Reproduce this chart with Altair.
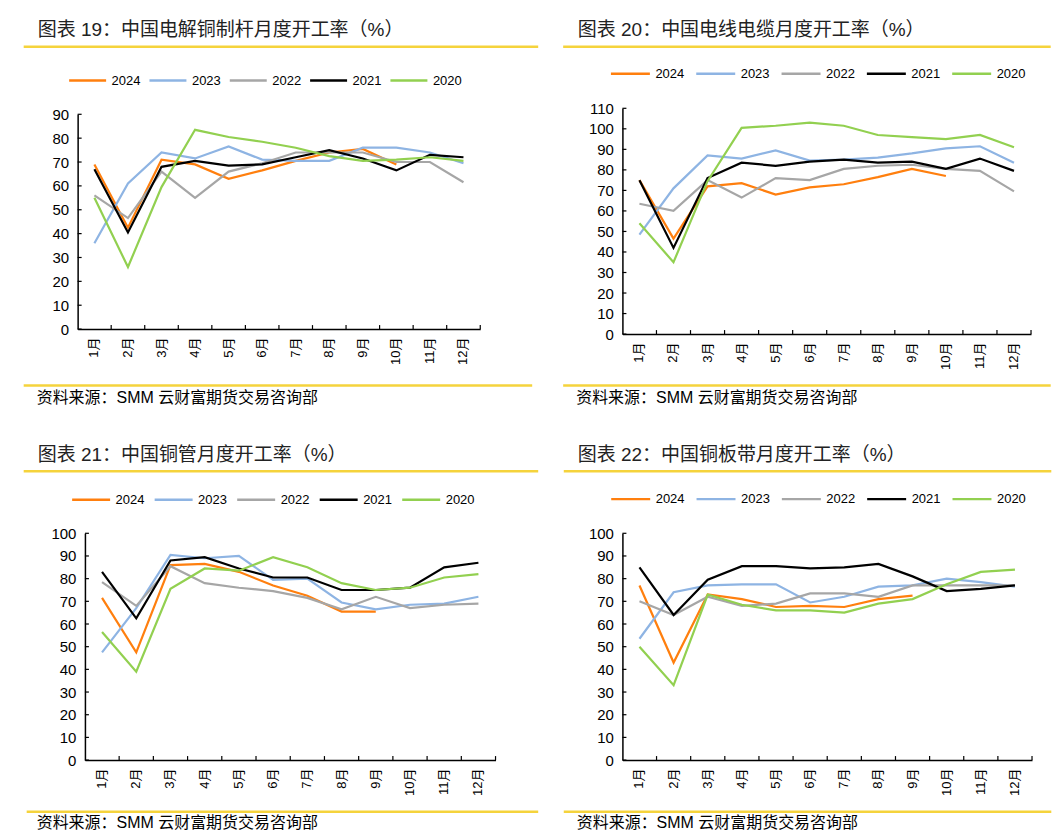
import altair as alt
import pandas as pd

FONT = "Liberation Sans, Noto Sans CJK SC, sans-serif"
YELLOW = "#F5D33C"

months = ["1月", "2月", "3月", "4月", "5月", "6月", "7月", "8月", "9月", "10月", "11月", "12月"]
years = ["2024", "2023", "2022", "2021", "2020"]
colors = ["#FF7F0E", "#8EB4E3", "#A6A6A6", "#000000", "#92D050"]

# 图表19 电解铜制杆
rod_2024 = [69, 42.5, 71, 69, 63, 66.5, 70.5, 74, 75.5, 69]
rod_2023 = [36, 61, 74, 71.5, 76.5, 71, 70.5, 70.5, 76, 76, 74, 69.5]
rod_2022 = [56, 46.5, 66, 55, 66, 69.5, 74, 74, 74, 70, 70, 61.5]
rod_2021 = [67, 40.5, 68, 70.5, 68.5, 69, 72, 75, 71.5, 66.5, 73, 72]
rod_2020 = [55, 26, 59.5, 83.5, 80.5, 78.5, 76, 72.5, 70.5, 71, 72, 70.5]

# 图表20 电线电缆
cable_2024 = [75, 46.5, 72, 73.5, 68, 71.5, 73, 76.5, 80.5, 77]
cable_2023 = [48.5, 71, 87, 85.5, 89.5, 84.5, 85, 86, 88, 90.5, 91.5, 83.5]
cable_2022 = [63.5, 60, 75, 66.5, 76, 75, 80.5, 82, 82.5, 80.5, 79.5, 69.5]
cable_2021 = [75, 42, 76, 83.5, 82, 84, 85, 83.5, 84, 80.5, 85.5, 79.5]
cable_2020 = [54, 35, 74.5, 100.5, 101.5, 103, 101.5, 97, 96, 95, 97, 91]

# 图表21 铜管
tube_2024 = [71.5, 47.5, 86, 86.5, 83, 77, 72.5, 65.5, 65.5]
tube_2023 = [47.5, 67, 90.5, 89, 90, 79.5, 80, 69.5, 66.5, 68.5, 69, 72]
tube_2022 = [78.5, 68, 85.5, 78, 76, 74.5, 71.5, 66.5, 72, 67, 68.5, 69]
tube_2021 = [83, 62.5, 88, 89.5, 84.5, 80.5, 80.5, 75, 75, 76, 85, 87]
tube_2020 = [56.5, 39, 75.5, 84.5, 83.5, 89.5, 85, 78, 75, 76, 80.5, 82]

# 图表22 铜板带
strip_2024 = [77, 43, 73, 71, 67.5, 68, 67.5, 71, 72.5]
strip_2023 = [53.5, 74, 77, 77.5, 77.5, 69.5, 72, 76.5, 77, 80, 78.5, 76.5]
strip_2022 = [70, 64, 72, 68, 69, 73.5, 73.5, 72, 77, 77, 77, 77]
strip_2021 = [85, 64, 79.5, 85.5, 85.5, 84.5, 85, 86.5, 81, 74.5, 75.5, 77]
strip_2020 = [50, 33, 73, 68.5, 66, 66, 65, 69, 71, 77.5, 83, 84]

titles = [
    "图表 19：中国电解铜制杆月度开工率（%）",
    "图表 20：中国电线电缆月度开工率（%）",
    "图表 21：中国铜管月度开工率（%）",
    "图表 22：中国铜板带月度开工率（%）",
]
source = "资料来源：SMM 云财富期货交易咨询部"

ticks_90 = [0, 10, 20, 30, 40, 50, 60, 70, 80, 90]
ticks_110 = [0, 10, 20, 30, 40, 50, 60, 70, 80, 90, 100, 110]
ticks_100 = [0, 10, 20, 30, 40, 50, 60, 70, 80, 90, 100]


def make_df(series):
    rows = []
    for yr, vals in zip(years, series):
        for m, v in zip(months, vals):
            rows.append({"month": m, "year": yr, "value": v})
    return pd.DataFrame(rows)


def panel(title, series, ticks, g):
    w, h = g["w"], g["h"]
    x0, x1 = g["xr"]
    ytop = g["ytop"]
    df = make_df(series)
    xscale = alt.Scale(type="band", domain=months, paddingInner=0, paddingOuter=0,
                       range=[x0, x1])
    yscale = alt.Scale(domain=[0, ticks[-1]], nice=False, range=[h, ytop])
    xaxis = alt.Axis(title=None, labelAngle=-90, ticks=False, grid=False,
                     domainColor="black", domainWidth=1.5, labelPadding=8,
                     labelFontSize=13, labelColor="black", labelFont=FONT)
    yaxis = alt.Axis(title=None, values=ticks, ticks=False, grid=False,
                     domainColor="black", domainWidth=1.5, labelPadding=9,
                     labelFontSize=15, labelColor="black", labelFont=FONT,
                     offset=-x0)

    lines = alt.Chart(df).mark_line(strokeWidth=2.2).encode(
        x=alt.X("month:N", scale=xscale, axis=xaxis, sort=months),
        y=alt.Y("value:Q", scale=yscale, axis=yaxis),
        color=alt.Color("year:N", scale=alt.Scale(domain=years, range=colors),
                        sort=years,
                        legend=alt.Legend(orient="none", legendX=g["lx"], legendY=g["ly"],
                                          direction="horizontal", title=None,
                                          symbolType="stroke", symbolSize=g["ss"],
                                          symbolStrokeWidth=2.5, labelFontSize=13,
                                          labelFont=FONT, labelColor="black",
                                          labelOffset=4, columnPadding=g["cp"])),
    )

    xt = alt.Chart(pd.DataFrame({"month": months})).mark_rule(
        color="black", strokeWidth=1.2).encode(
        x=alt.X("month:N", scale=xscale, axis=xaxis, sort=months, bandPosition=1),
        y=alt.value(h), y2=alt.value(h - 4))

    yt = alt.Chart(pd.DataFrame({"value": ticks})).mark_rule(
        color="black", strokeWidth=1.2).encode(
        y=alt.Y("value:Q", scale=yscale, axis=yaxis),
        x=alt.value(x0), x2=alt.value(x0 + 4))

    one = pd.DataFrame({"t": [title], "s": [source]})
    frame = alt.Chart(one).mark_rect(opacity=0).encode(
        x=alt.value(g["fl"]), x2=alt.value(g["fr"]),
        y=alt.value(-100), y2=alt.value(300))
    ttl = alt.Chart(one).mark_text(align="left", baseline="middle", fontSize=19,
                                   font=FONT, color="#222222").encode(
        x=alt.value(g["tx"]), y=alt.value(g["ty"]), text="t:N")
    tline = alt.Chart(one).mark_rule(color=YELLOW, strokeWidth=2.5).encode(
        x=alt.value(g["tl1"]), x2=alt.value(g["tl2"]), y=alt.value(g["tly"]))
    sline = alt.Chart(one).mark_rule(color=YELLOW, strokeWidth=2.5).encode(
        x=alt.value(g["sl1"]), x2=alt.value(g["sl2"]), y=alt.value(g["sly"]))
    src = alt.Chart(one).mark_text(align="left", baseline="middle", fontSize=16,
                                   font=FONT, color="black").encode(
        x=alt.value(g["sx"]), y=alt.value(g["sy"]), text="s:N")

    return alt.layer(frame, tline, sline, ttl, src, yt, xt, lines).properties(width=w, height=h)


# geometry relative to each panel's origin
g1 = dict(w=396, h=221, xr=[-7.3, 395.7], ytop=6, fl=-76.3, fr=456,
          tx=-47.3, ty=-78.3, tl1=-61.3, tl2=453.7, tly=-61.6,
          lx=-17.3, ly=-47.8, ss=1369, cp=3.4,
          sl1=-61.3, sl2=447.7, sly=277.4, sx=-48.3, sy=289.7)
g2 = dict(w=409, h=226, xr=[0, 409], ytop=0, fl=-72, fr=430,
          tx=-44.6, ty=-78.3, tl1=-59.3, tl2=428.7, tly=-61.6,
          lx=-13, ly=-55.5, ss=1521, cp=6.4,
          sl1=-59.3, sl2=428.7, sly=277.4, sx=-46.3, sy=289.7)
g3 = dict(w=411, h=227, xr=[0, 411], ytop=0, fl=-76.3, fr=456,
          tx=-47.3, ty=-78, tl1=-61.3, tl2=453.7, tly=-62,
          lx=-14.3, ly=-54.4, ss=1444, cp=4.6,
          sl1=-58.3, sl2=453.7, sly=278.6, sx=-48.3, sy=290.3)
g4 = dict(w=410, h=227, xr=[0, 410], ytop=0, fl=-71.4, fr=430,
          tx=-44.7, ty=-78, tl1=-58.7, tl2=429.3, tly=-62,
          lx=-12.7, ly=-55.2, ss=1521, cp=6.4,
          sl1=-58.7, sl2=429.3, sly=278.6, sx=-45.7, sy=290.3)

p1 = panel(titles[0], [rod_2024, rod_2023, rod_2022, rod_2021, rod_2020], ticks_90, g1)
p2 = panel(titles[1], [cable_2024, cable_2023, cable_2022, cable_2021, cable_2020], ticks_110, g2)
p3 = panel(titles[2], [tube_2024, tube_2023, tube_2022, tube_2021, tube_2020], ticks_100, g3)
p4 = panel(titles[3], [strip_2024, strip_2023, strip_2022, strip_2021, strip_2020], ticks_100, g4)

row1 = alt.hconcat(p1, p2, spacing=10).resolve_scale(
    x="independent", y="independent", color="independent").resolve_legend(color="independent")
row2 = alt.hconcat(p3, p4, spacing=10).resolve_scale(
    x="independent", y="independent", color="independent").resolve_legend(color="independent")

chart = alt.vconcat(row1, row2, spacing=25.4).resolve_scale(
    x="independent", y="independent", color="independent").resolve_legend(
    color="independent").properties(
    padding={"left": 0, "top": 0, "right": 0, "bottom": 0},
    background="white",
).configure_view(stroke=None)

chart.save("out.html", embed_options={"renderer": "svg", "actions": False})
